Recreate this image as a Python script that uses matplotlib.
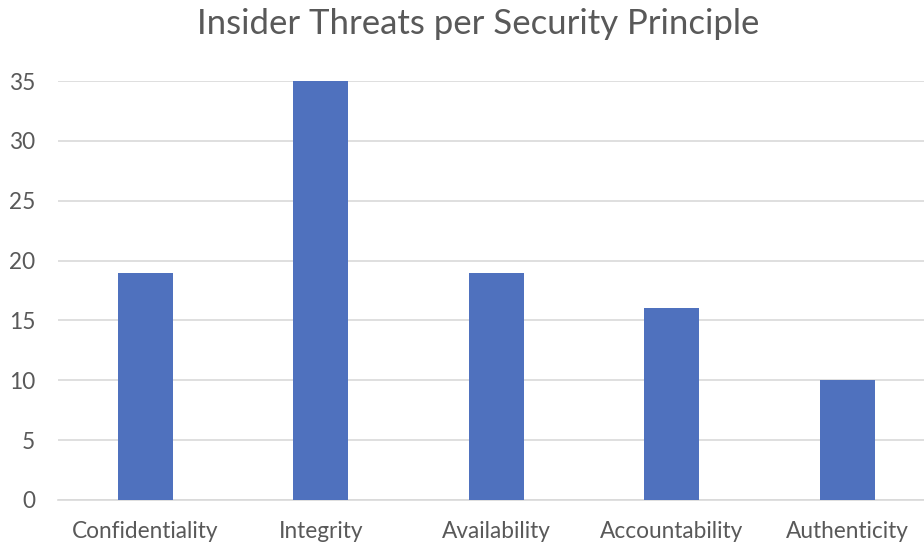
import matplotlib
matplotlib.use("Agg")
import matplotlib.pyplot as plt

categories = ["Confidentiality", "Integrity", "Availability", "Accountability", "Authenticity"]
values = [19, 35, 19, 16, 10]
yticks = [0, 5, 10, 15, 20, 25, 30, 35]

plt.rcParams['font.family'] = ['Lato', 'DejaVu Sans']

fig = plt.figure(figsize=(9.24, 5.45), dpi=100)
ax = fig.add_axes([57.5/924, 45/545, 877.5/924, 419/545])
x = list(range(len(categories)))
ax.bar(x, values, width=0.315, color="#4F71BE", zorder=3)
ax.set_xlim(-0.5, len(categories) - 0.5)
ax.set_ylim(0, 35)
ax.set_yticks(yticks)
ax.set_xticks(x)
ax.set_xticklabels(categories)
ax.grid(axis='y', color="#D9D9D9", linewidth=1.2, zorder=0)
for s in ['top', 'right', 'left']:
    ax.spines[s].set_visible(False)
ax.spines['bottom'].set_color("#D9D9D9")
ax.spines['bottom'].set_linewidth(1.2)
ax.tick_params(axis='both', length=0, labelsize=16.3, labelcolor="#595959")
ax.tick_params(axis='x', pad=15)
ax.tick_params(axis='y', pad=16)
fig.text(478/924, 1 - 24/545, "Insider Threats per Security Principle", ha='center', va='center',
         fontsize=25, color="#595959")
fig.savefig("out.png", dpi=100)
